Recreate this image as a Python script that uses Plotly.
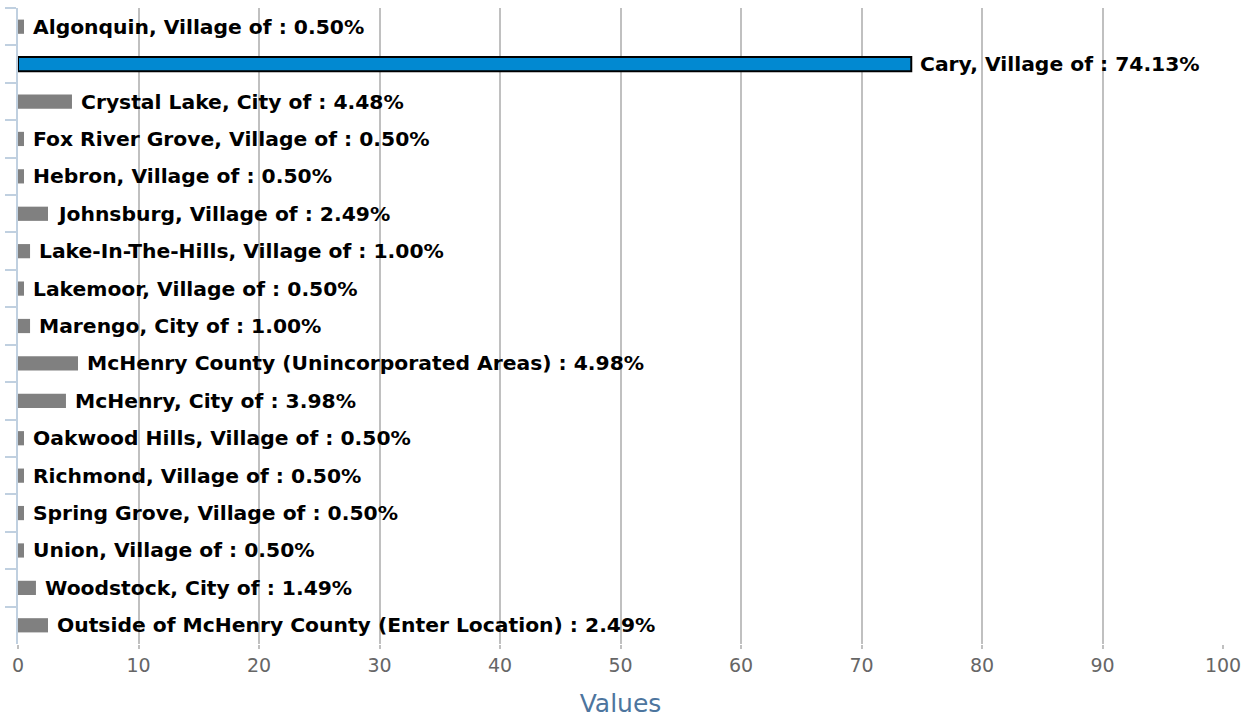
import plotly.graph_objects as go

categories = [
    "Algonquin, Village of",
    "Cary, Village of",
    "Crystal Lake, City of",
    "Fox River Grove, Village of",
    "Hebron, Village of",
    "Johnsburg, Village of",
    "Lake-In-The-Hills, Village of",
    "Lakemoor, Village of",
    "Marengo, City of",
    "McHenry County (Unincorporated Areas)",
    "McHenry, City of",
    "Oakwood Hills, Village of",
    "Richmond, Village of",
    "Spring Grove, Village of",
    "Union, Village of",
    "Woodstock, City of",
    "Outside of McHenry County (Enter Location)",
]
values = [0.50, 74.13, 4.48, 0.50, 0.50, 2.49, 1.00, 0.50, 1.00,
          4.98, 3.98, 0.50, 0.50, 0.50, 0.50, 1.49, 2.49]
highlight = "Cary, Village of"
x_ticks = [0, 10, 20, 30, 40, 50, 60, 70, 80, 90, 100]

bar_colors = ["#0289d1" if c == highlight else "#808080" for c in categories]
line_widths = [2 if c == highlight else 0 for c in categories]

fig = go.Figure(
    go.Bar(
        x=values,
        y=categories,
        orientation="h",
        width=0.38,
        marker=dict(color=bar_colors, line=dict(color="#000000", width=line_widths)),
        hoverinfo="skip",
    )
)

# value labels to the right of each bar
label_font = dict(family="DejaVu Sans", size=20.3, color="#000000", weight="bold")
for c, v in zip(categories, values):
    fig.add_annotation(
        x=v, y=c, xref="x", yref="y",
        text=f"{c} : {v:.2f}%",
        showarrow=False, xanchor="left", yanchor="middle",
        xshift=7, font=label_font,
    )

fig.update_layout(
    width=1257, height=719,
    margin=dict(l=18, r=34, t=8, b=75),
    paper_bgcolor="white", plot_bgcolor="white",
    showlegend=False,
    xaxis=dict(
        range=[0, 100],
        tickvals=x_ticks,
        showgrid=True, gridcolor="#c0c0c0", gridwidth=1.5,
        zeroline=False, showline=False,
        ticks="outside", ticklen=4, tickcolor="#c0c0c0", tickwidth=1.5,
        tickfont=dict(family="DejaVu Sans", size=19, color="#666666"),
        title=dict(text="Values", font=dict(family="DejaVu Sans", size=25, color="#4d759e"), standoff=19),
    ),
    yaxis=dict(
        categoryorder="array", categoryarray=categories,
        autorange="reversed",
        showticklabels=False,
        showgrid=False, zeroline=False,
        showline=True, linecolor="#c0d0e0", linewidth=2,
        ticks="outside", tickson="boundaries", ticklen=11,
        tickcolor="#c0d0e0", tickwidth=1.5,
    ),
)

fig.write_html("out.html")
